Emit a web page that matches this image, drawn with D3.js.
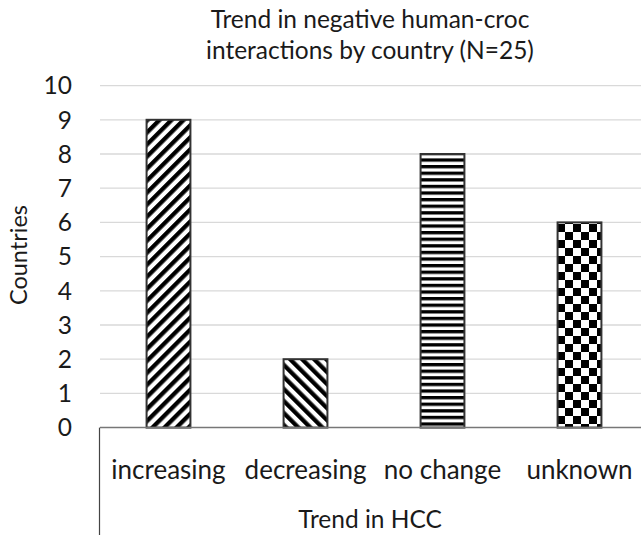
<!DOCTYPE html>
<html lang="en">
<head>
<meta charset="UTF-8">
<title>Trend in HCC</title>
<script src="https://d3js.org/d3.v7.min.js"></script>
<style>
    body { margin: 0; background: #fff; }
    svg text { font-family: Lato, "Open Sans", sans-serif; fill: #1a1a1a; }
</style>
</head>
<body>
<svg id="chart" width="641" height="535"></svg>
<script>
    const categories = ["increasing", "decreasing", "no change", "unknown"]
    const countries = [9, 2, 8, 6]
    const patterns = ["diagUp", "diagDown", "horiz", "checker"]
    const yTicks = [0, 1, 2, 3, 4, 5, 6, 7, 8, 9, 10]

    const svg = d3.select("#chart")
    const plotLeft = 100, plotRight = 648, plotTop = 85.6, plotBottom = 427.6

    // fill patterns for the bars
    const defs = svg.append("defs")
    let p = defs.append("pattern").attr("id", "diagUp").attr("patternUnits", "userSpaceOnUse")
        .attr("width", 8.5).attr("height", 8.5).attr("patternTransform", "rotate(45)")
    p.append("rect").attr("width", 8.5).attr("height", 8.5).attr("fill", "#fff")
    p.append("rect").attr("width", 4.3).attr("height", 8.5).attr("fill", "#000")
    p = defs.append("pattern").attr("id", "diagDown").attr("patternUnits", "userSpaceOnUse")
        .attr("width", 8.5).attr("height", 8.5).attr("patternTransform", "rotate(-45)")
    p.append("rect").attr("width", 8.5).attr("height", 8.5).attr("fill", "#fff")
    p.append("rect").attr("width", 4.3).attr("height", 8.5).attr("fill", "#000")
    p = defs.append("pattern").attr("id", "horiz").attr("patternUnits", "userSpaceOnUse")
        .attr("width", 8).attr("height", 6.6).attr("y", 0)
    p.append("rect").attr("width", 8).attr("height", 6.6).attr("fill", "#fff")
    p.append("rect").attr("width", 8).attr("height", 3.3).attr("fill", "#000")
    p = defs.append("pattern").attr("id", "checker").attr("patternUnits", "userSpaceOnUse")
        .attr("width", 16).attr("height", 16).attr("x", 557).attr("y", 0)
    p.append("rect").attr("width", 16).attr("height", 16).attr("fill", "#fff")
    p.append("rect").attr("width", 8).attr("height", 8).attr("fill", "#000")
    p.append("rect").attr("x", 8).attr("y", 8).attr("width", 8).attr("height", 8).attr("fill", "#000")

    const x = d3.scaleBand().domain(categories).range([plotLeft, plotRight]).paddingInner(0.68).paddingOuter(0.34)
    const y = d3.scaleLinear().domain([0, 10]).range([plotBottom, plotTop])

    // gridlines
    svg.append("g").selectAll("line").data(yTicks.slice(1)).join("line")
        .attr("x1", plotLeft).attr("x2", 641)
        .attr("y1", d => y(d)).attr("y2", d => y(d))
        .attr("stroke", "#d9d9d9").attr("stroke-width", 1.3)

    // y tick labels
    svg.append("g").selectAll("text").data(yTicks).join("text")
        .attr("x", 72).attr("y", d => y(d)).attr("dy", "0.36em")
        .attr("text-anchor", "end").attr("font-size", 24.5)
        .text(d => d)

    // bars
    svg.append("g").selectAll("rect").data(categories).join("rect")
        .attr("x", d => x(d)).attr("width", x.bandwidth())
        .attr("y", (d, i) => y(countries[i]))
        .attr("height", (d, i) => y(0) - y(countries[i]))
        .attr("fill", (d, i) => "url(#" + patterns[i] + ")")
        .attr("stroke", "#333").attr("stroke-width", 2)

    // category axis
    svg.append("line").attr("x1", plotLeft).attr("x2", 641).attr("y1", plotBottom).attr("y2", plotBottom)
        .attr("stroke", "#777").attr("stroke-width", 1.5)
    svg.append("line").attr("x1", 99.5).attr("x2", 99.5).attr("y1", plotBottom).attr("y2", 535)
        .attr("stroke", "#444").attr("stroke-width", 1.2)

    svg.append("g").selectAll("text").data(categories).join("text")
        .attr("x", d => x(d) + x.bandwidth() / 2).attr("y", 479)
        .attr("text-anchor", "middle").attr("font-size", 26)
        .text(d => d)

    svg.append("text").attr("x", 370).attr("y", 528).attr("text-anchor", "middle")
        .attr("font-size", 24.5).text("Trend in HCC")

    svg.append("text").attr("transform", "translate(27,255) rotate(-90)")
        .attr("text-anchor", "middle").attr("font-size", 23.5).text("Countries")

    // title
    const title = svg.append("text").attr("text-anchor", "middle").attr("font-size", 24.5)
    title.append("tspan").attr("x", 370).attr("y", 28).text("Trend in negative human-croc")
    title.append("tspan").attr("x", 370).attr("y", 59).text("interactions by country (N=25)")
</script>
</body>
</html>
